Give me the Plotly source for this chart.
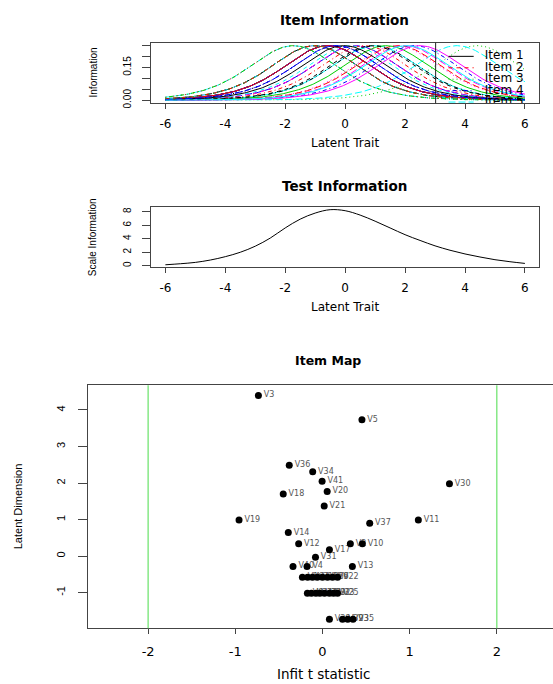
import numpy as np
import plotly.graph_objects as go

# ---------------- data ----------------
items = [f"V{i}" for i in range(1, 42)]
infit = [-0.23, 0.32, -0.735, -0.177, 0.453, -0.17, -0.115, -0.173, 0.115, 0.458,
         1.10, -0.273, 0.343, -0.392, -0.06, 0.0, 0.08, -0.45, -0.957, 0.054,
         0.02, 0.173, 0.29, -0.127, 0.173, 0.058, -0.075, -0.03, 0.023, 1.457,
         -0.08, 0.08, 0.127, -0.112, 0.35, -0.381, 0.542, 0.08, 0.23, -0.338,
         -0.004]
difficulty = [-0.58, 0.34, 4.40, -0.285, 3.73, -0.58, -0.58, -1.02, -0.58, 0.34,
              0.99, 0.34, -0.285, 0.645, -0.58, -0.58, 0.17, 1.70, 0.99, 1.77,
              1.37, -0.58, -1.73, -1.02, -1.02, -0.58, -1.02, -1.02, -1.02, 1.98,
              -0.03, -1.02, -1.02, 2.31, -1.73, 2.49, 0.90, -1.73, -1.73, -0.285,
              2.05]

# Test information curve
test_theta = [-6, -5.5, -5, -4.5, -4, -3.5, -3, -2.5, -2, -1.5, -1, -0.5, 0,
              0.5, 1, 1.5, 2, 2.5, 3, 3.5, 4, 4.5, 5, 5.5, 6]
test_info = [0.15, 0.3, 0.5, 0.85, 1.35, 2.0, 2.9, 4.1, 5.6, 6.9, 7.8, 8.3, 8.15,
             7.5, 6.6, 5.6, 4.6, 3.75, 2.95, 2.3, 1.75, 1.3, 0.9, 0.6, 0.35]

trait_ticks = [-6, -4, -2, 0, 2, 4, 6]
info_ticks = [0, 0.05, 0.10, 0.15, 0.20, 0.25]
info_ticktext = ["0.00", "", "", "0.15", "", ""]
scale_ticks = [0, 2, 4, 6, 8]
infit_ticks = [-2, -1, 0, 1, 2]
dim_ticks = [-1, 0, 1, 2, 3, 4]
legend_items = ["Item 1", "Item 2", "Item 3", "Item 4", "Item 5"]

# ---------------- styling ----------------
W, H = 553, 684
r_cols = ["black", "red", "#00CD00", "blue", "cyan", "magenta"]
r_dash = ["solid", "4px,4px", "1px,3px", "1px,3px,4px,3px", "7px,3px"]
HF = "DejaVu Sans"
VF = "Liberation Sans"
AX = "#444444"


def px(x):
    return x / W


def py(y):
    return 1 - y / H


fig = go.Figure()

# Item information curves (Rasch item information from item locations)
theta = np.linspace(-6, 6, 241)
for i, b in enumerate(difficulty):
    p = 1.0 / (1.0 + np.exp(-(theta - b)))
    fig.add_trace(go.Scatter(x=theta, y=p * (1 - p), mode="lines",
                             line=dict(color=r_cols[i % 6], dash=r_dash[i % 5], width=1),
                             xaxis="x", yaxis="y", hoverinfo="skip"))

# legend (drawn inside the plot, clipped like the reference)
leg_y0, leg_dy = 0.201, 0.0523
for k, name in enumerate(legend_items):
    yy = leg_y0 - k * leg_dy
    fig.add_trace(go.Scatter(x=[3.45, 4.29], y=[yy, yy], mode="lines",
                             line=dict(color=r_cols[k % 6], dash=r_dash[k % 5], width=1),
                             xaxis="x", yaxis="y", hoverinfo="skip"))
fig.add_trace(go.Scatter(x=[4.66] * len(legend_items),
                         y=[leg_y0 - k * leg_dy for k in range(len(legend_items))],
                         mode="text", text=legend_items, textposition="middle right",
                         textfont=dict(family=HF, size=12, color="black"),
                         cliponaxis=True, xaxis="x", yaxis="y", hoverinfo="skip"))

# Test information
fig.add_trace(go.Scatter(x=test_theta, y=test_info, mode="lines", line_shape="spline",
                         line=dict(color="black", width=1), xaxis="x2", yaxis="y2",
                         hoverinfo="skip"))

# Item map: labels then points
fig.add_trace(go.Scatter(x=infit, y=difficulty, mode="markers+text", text=items,
                         textposition="middle right",
                         marker=dict(size=7, color="rgba(0,0,0,0)"),
                         textfont=dict(family=HF, size=8, color="#555555"),
                         xaxis="x3", yaxis="y3", hoverinfo="skip"))
fig.add_trace(go.Scatter(x=infit, y=difficulty, mode="markers",
                         marker=dict(size=7, color="black"),
                         xaxis="x3", yaxis="y3", hoverinfo="skip"))

common_x = dict(showgrid=False, zeroline=False, showline=True, linecolor=AX, linewidth=1,
                ticks="outside", ticklen=5, tickcolor=AX,
                tickfont=dict(family=HF, size=12, color="black"), ticklabelstandoff=4)
common_y = dict(showgrid=False, zeroline=False, showline=True, linecolor=AX, linewidth=1,
                ticks="outside", ticklen=8, tickcolor=AX, tickangle=-90,
                tickfont=dict(family=VF, size=10, color="black"), ticklabelstandoff=7)

fig.update_layout(
    width=W, height=H, margin=dict(l=0, r=0, t=0, b=0),
    paper_bgcolor="white", plot_bgcolor="white", showlegend=False,
    xaxis=dict(domain=[px(151), px(539.3)], range=[-6.48, 6.48], anchor="y",
               tickvals=trait_ticks, ticktext=[str(v) for v in trait_ticks],
               mirror=True, **common_x),
    yaxis=dict(domain=[py(104), py(43)], range=[-0.0136, 0.2636], anchor="x",
               tickvals=info_ticks, ticktext=info_ticktext, mirror=True, **common_y),
    xaxis2=dict(domain=[px(151), px(539.3)], range=[-6.48, 6.48], anchor="y2",
                tickvals=trait_ticks, ticktext=[str(v) for v in trait_ticks],
                mirror=True, **common_x),
    yaxis2=dict(domain=[py(269.3), py(208.3)], range=[-0.23, 8.73], anchor="x2",
                tickvals=scale_ticks, ticktext=[str(v) for v in scale_ticks],
                mirror=True, **common_y),
    xaxis3=dict(domain=[px(88), 1.0], range=[-2.69, 2.645], anchor="y3",
                tickvals=infit_ticks, ticktext=[str(v) for v in infit_ticks],
                mirror=True, **common_x),
    yaxis3=dict(domain=[py(633), py(388)], range=[-1.98, 4.68], anchor="x3",
                tickvals=dim_ticks, ticktext=[str(v) for v in dim_ticks],
                mirror=False, **common_y),
)
fig.update_layout(yaxis3=dict(ticklen=9, tickfont=dict(size=11), ticklabelstandoff=9),
                  xaxis3=dict(tickfont=dict(size=13), ticklabelstandoff=6))

# reference lines
for v in [-2, 2]:
    fig.add_shape(type="line", xref="x3", yref="y3 domain", x0=v, x1=v, y0=0, y1=1,
                  line=dict(color="#86E886", width=1.5))
fig.add_shape(type="line", xref="x", yref="y domain", x0=3.02, x1=3.02, y0=0, y1=1,
              line=dict(color="#222222", width=1))

ann = [
    ("Item Information", 345, 20, 0, 13.5, True, HF),
    ("Latent Trait", 345, 144, 0, 12, False, HF),
    ("Information", 93, 73, -90, 10, False, VF),
    ("Test Information", 345, 187, 0, 13.5, True, HF),
    ("Latent Trait", 345, 309, 0, 12, False, HF),
    ("Scale Information", 92, 239, -90, 10, False, VF),
    ("Item Map", 328, 363, 0, 12.5, True, HF),
    ("Infit t statistic", 323, 679, 0, 13.5, False, HF),
    ("Latent Dimension", 18, 510, -90, 11, False, VF),
]
for text, x, y, ang, size, bold, fam in ann:
    fig.add_annotation(text=f"<b>{text}</b>" if bold else text, x=px(x), y=py(y),
                       xref="paper", yref="paper", showarrow=False, textangle=ang,
                       xanchor="center", yanchor="middle",
                       font=dict(family=fam, size=size, color="black"))

fig.write_html("out.html", config={"displayModeBar": False},
               post_script="document.body.style.margin='0';document.body.style.overflow='hidden';")
